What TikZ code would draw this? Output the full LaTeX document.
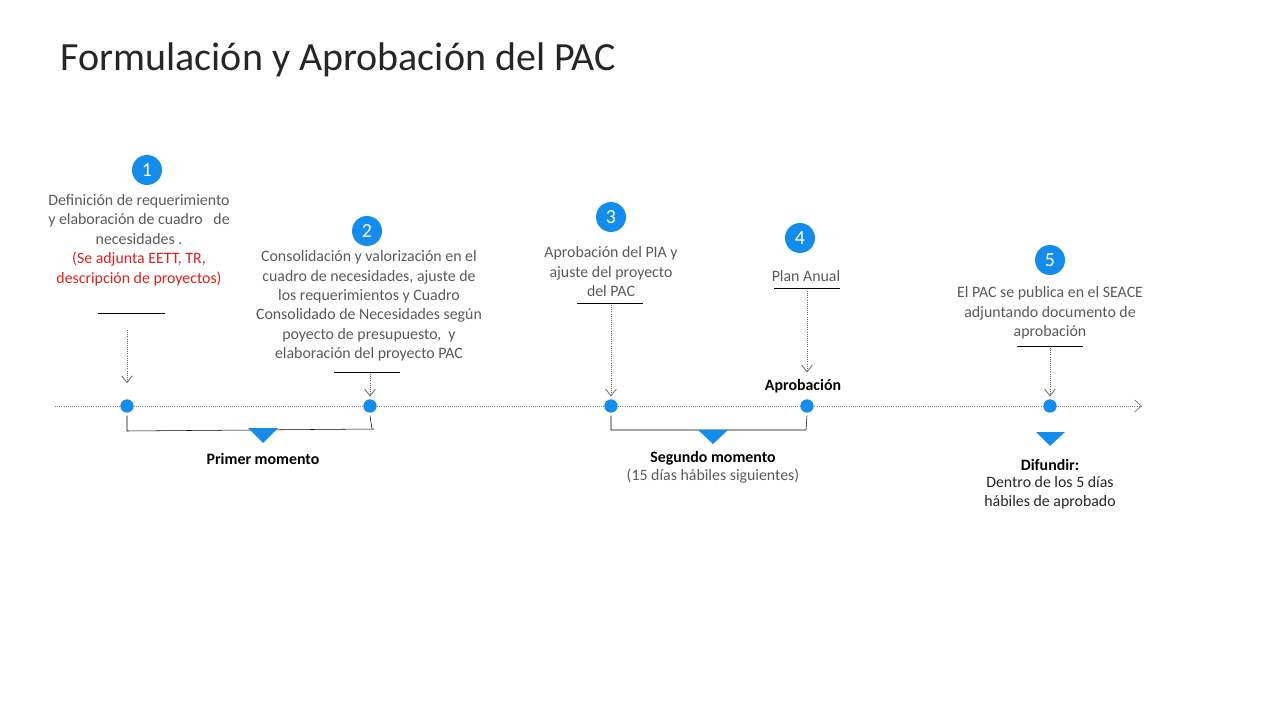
\documentclass[tikz,border=0pt]{standalone}
\usepackage{fontspec}
\setmainfont{Carlito}
\usetikzlibrary{arrows.meta}

\definecolor{azul}{RGB}{20,140,235}
\definecolor{gristxt}{RGB}{89,89,89}
\definecolor{rojo}{RGB}{225,30,30}

\tikzset{
  num/.style={circle, fill=azul, text=white, minimum size=22.5pt, inner sep=0pt, font=\fontsize{15}{16}\selectfont},
  punto/.style={circle, fill=azul, minimum size=10pt, inner sep=0pt},
  txt/.style={align=center, text=gristxt, inner sep=0pt, font=\fontsize{11.9}{14.6}\selectfont},
  negrita/.style={align=center, inner sep=0pt, font=\fontsize{11.9}{14.6}\selectfont\bfseries},
  baja/.style={gray!80!black, densely dotted, semithick, -{Straight Barb[length=5pt,width=8pt]}},
  raya/.style={black, thin},
  tri/.style={fill=azul}
}

\begin{document}
\begin{tikzpicture}[x=0.75pt, y=-0.75pt]
\useasboundingbox (0,0) rectangle (1280,720);

\node[anchor=west, font=\fontsize{30}{34}\selectfont, text=black!85] (titulo) at (56,60) {Formulación y Aprobación del PAC};

% linea de tiempo
\draw[gray, densely dotted, semithick, -{Straight Barb[length=5pt,width=9pt]}] (55,406) -- (1142,406);
\node[punto] (p1) at (127,406) {};
\node[punto] (p2) at (370,406) {};
\node[punto] (p3) at (611,406) {};
\node[punto] (p4) at (807,406) {};
\node[punto] (p5) at (1050,406) {};

% pasos
\node[num] (n1) at (147,170) {1};
\node[num] (n2) at (367,231) {2};
\node[num] (n3) at (611,217) {3};
\node[num] (n4) at (800,238) {4};
\node[num] (n5) at (1050,260) {5};

\node[txt] (t1) at (139,240) {Definición de requerimiento\\y elaboración de cuadro\ \ \ de\\necesidades .\\\textcolor{rojo}{(Se adjunta EETT, TR,}\\\textcolor{rojo}{descripción de proyectos)}};
\node[txt] (t2) at (369,306) {Consolidación y valorización en el\\cuadro de necesidades, ajuste de\\los requerimientos y Cuadro\\Consolidado de Necesidades según\\poyecto de presupuesto,\ \ y\\elaboración del proyecto PAC};
\node[txt] (t3) at (611,272) {Aprobación del PIA y\\ajuste del proyecto\\del PAC};
\node[txt] (t4) at (806,276) {Plan Anual};
\node[txt] (t5) at (1050,313) {El PAC se publica en el SEACE\\adjuntando documento de\\aprobación};

% rayas y flechas
\draw[raya] (98,313) -- (165,313);
\draw[raya] (334,372) -- (400,372);
\draw[raya] (577,303) -- (643,303);
\draw[raya] (774,288) -- (840,288);
\draw[raya] (1017,346) -- (1083,346);

\coordinate (a1) at (127,330);
\coordinate (a2) at (370,374);
\coordinate (a3) at (611,305);
\coordinate (a4) at (807,291);
\coordinate (a5) at (1050,348);
\draw[baja] (a1) -- ([yshift=12pt]p1.north);
\draw[baja] (a2) -- ([yshift=2pt]p2.north);
\draw[baja] (a3) -- ([yshift=2pt]p3.north);
\draw[baja] (a4) -- ([yshift=20pt]p4.north);
\draw[baja] (a5) -- ([yshift=2pt]p5.north);

\node[negrita] (aprob) at (803,386) {Aprobación};

% momentos
\draw[raya] ([yshift=-2pt]p1.south) -- (127,431) -- (374,429);
\draw[raya] ([yshift=-2pt]p2.south) -- (372,429);
\fill[tri] (248,428) -- (278,428) -- (263,443) -- cycle;
\node[negrita] (m1) at (263,459) {Primer momento};

\draw[raya] ([yshift=-2pt]p3.south) -- (611,430) -- (806,430) -- ([yshift=-2pt]p4.south);
\fill[tri] (698,430) -- (728,430) -- (713,444) -- cycle;
\node[negrita] (m2) at (713,458) {Segundo momento};
\node[txt] (m2b) at (713,476) {(15 días hábiles siguientes)};

\fill[tri] (1036,432) -- (1065,432) -- (1050,446) -- cycle;
\node[negrita] (m3) at (1050,465) {Difundir:};
\node[txt, text=black!85, font=\fontsize{11.9}{14}\selectfont] (m3b) at (1050,493) {Dentro de los 5 días\\hábiles de aprobado};

\end{tikzpicture}
\end{document}
